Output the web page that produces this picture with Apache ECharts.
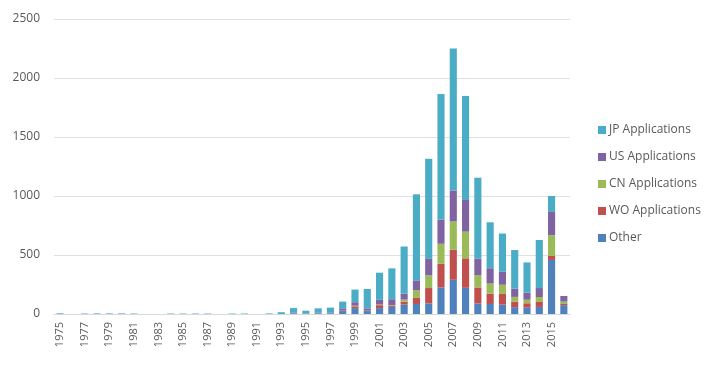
<!DOCTYPE html>
<html><head><meta charset="utf-8">
<script src="https://cdn.jsdelivr.net/npm/echarts@6/dist/echarts.min.js"></script>
<style>html,body{margin:0;padding:0;background:#fff}#c{width:720px;height:365px}</style>
</head><body><div id="c"></div>
<script>
var years = [];
for (var y = 1975; y <= 2016; y++) years.push(String(y));

var other = [0,0,0,0,0,0,0,0,0,0,0,0,0,0,0,0,0,0,0,5,3,5,5,25,50,25,50,60,80,85,90,225,290,222,90,85,80,58,54,60,458,75];
var wo    = [0,0,0,0,0,0,0,0,0,0,0,0,0,0,0,0,0,0,0,0,0,0,0,5,15,5,25,10,25,55,130,200,254,250,135,88,90,47,37,42,34,10];
var cn    = [0,0,0,0,0,0,0,0,0,0,0,0,0,0,0,0,0,0,0,0,0,0,0,0,5,0,5,5,17,60,107,170,240,226,105,85,78,40,30,42,175,20];
var us    = [0,0,0,0,0,0,0,0,0,0,0,0,0,0,0,0,0,0,0,5,3,5,5,18,30,18,40,50,50,85,140,205,263,268,140,130,110,70,60,76,198,48];
var jp    = [6,0,4,5,5,5,4,0,0,4,4,4,4,0,4,4,0,5,15,40,22,38,44,57,107,164,230,262,400,729,848,1064,1203,882,685,389,324,327,256,407,135,0];

var yTicks = [0, 500, 1000, 1500, 2000, 2500];

var chart = echarts.init(document.getElementById('c'));
function s(name, data, color) {
  return {name: name, type: 'bar', stack: 'total', data: data, barWidth: '58%',
          itemStyle: {color: color}, emphasis: {disabled: true}};
}
chart.setOption({
  animation: false,
  grid: {left: 54, right: 150, top: 19, bottom: 51},
  legend: {
    orient: 'vertical', left: 593, top: 119, itemWidth: 8, itemHeight: 8, itemGap: 15,
    icon: 'rect', textStyle: {color: '#595959', fontSize: 12, fontFamily: 'Open Sans', padding: [0, 0, 0, -2]},
    data: ['JP Applications', 'US Applications', 'CN Applications', 'WO Applications', 'Other']
  },
  xAxis: {
    type: 'category', data: years,
    axisLine: {lineStyle: {color: '#d9d9d9'}},
    axisTick: {show: false},
    axisLabel: {rotate: 90, interval: 1, color: '#595959', fontSize: 11, fontFamily: 'Open Sans', margin: 8}
  },
  yAxis: {
    type: 'value', min: yTicks[0], max: yTicks[yTicks.length - 1], interval: 500,
    axisLine: {show: false}, axisTick: {show: false},
    splitLine: {lineStyle: {color: '#e0e0e0'}},
    axisLabel: {color: '#595959', fontSize: 12, fontFamily: 'Open Sans', margin: 14,
                formatter: function (v) { return String(v); }}
  },
  series: [
    s('Other', other, '#4f81bd'),
    s('WO Applications', wo, '#c0504d'),
    s('CN Applications', cn, '#9bbb59'),
    s('US Applications', us, '#8064a2'),
    s('JP Applications', jp, '#4bacc6')
  ]
});
</script></body></html>
